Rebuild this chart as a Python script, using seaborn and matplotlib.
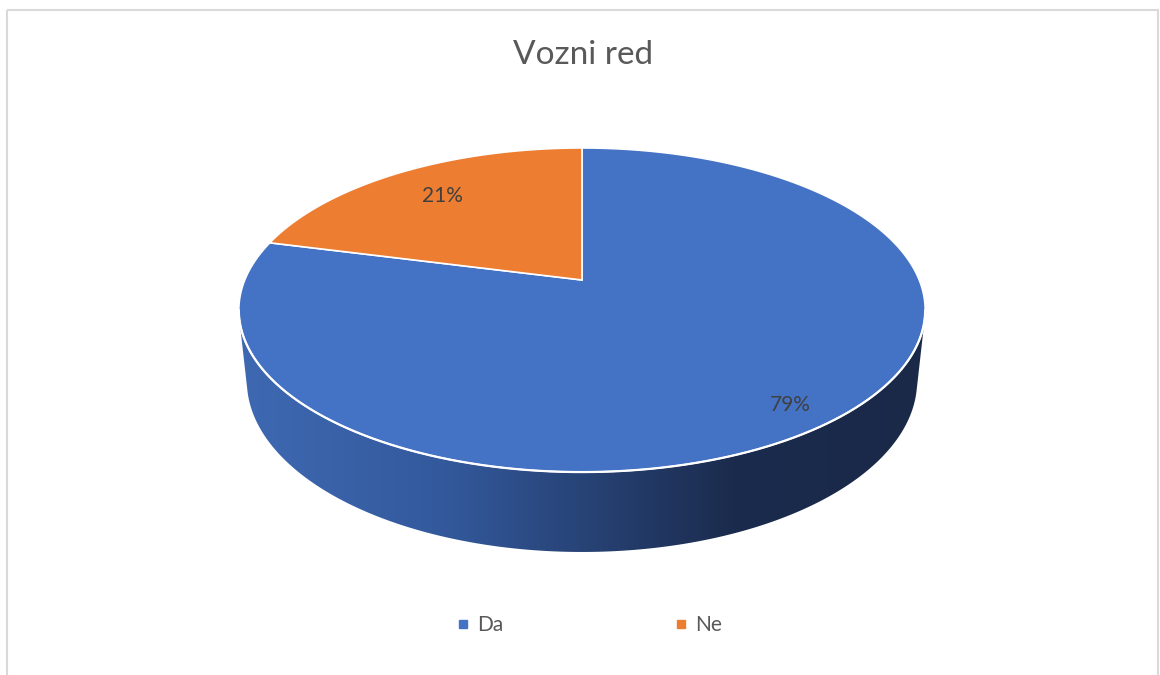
import numpy as np
import matplotlib
matplotlib.use("Agg")
import matplotlib.pyplot as plt
import seaborn as sns
from matplotlib.patches import Polygon, Rectangle
from matplotlib.colors import LinearSegmentedColormap
from matplotlib.lines import Line2D

#Chart data
title = "Vozni red"
categories = ["Da", "Ne"]
values = [79, 21]
colors = ["#4472C4", "#ED7D31"]
label_radius = [0.88, 0.75]

sns.set_theme(style="white")
plt.rcParams["font.family"] = ["Lato", "DejaVu Sans"]

#Perspective settings for the 3d pie (pixel space)
cx, cy = 582, 280
s_el = 0.464
c_el = np.sqrt(1 - s_el ** 2)
dist, focal, height = 4.78, 1612, 0.239


def proj(theta, r=1.0, yw=0.0):
    x3 = r * np.cos(theta)
    z3 = r * np.sin(theta)
    yc = z3 * s_el + yw * c_el
    depth = dist + z3 * c_el - yw * s_el
    return cx + focal * x3 / depth, cy - focal * yc / depth


def hull(pts):
    pts = sorted(set(map(tuple, pts)))
    def cross(o, a, b):
        return (a[0] - o[0]) * (b[1] - o[1]) - (a[1] - o[1]) * (b[0] - o[0])
    lower, upper = [], []
    for p in pts:
        while len(lower) >= 2 and cross(lower[-2], lower[-1], p) <= 0:
            lower.pop()
        lower.append(p)
    for p in reversed(pts):
        while len(upper) >= 2 and cross(upper[-2], upper[-1], p) <= 0:
            upper.pop()
        upper.append(p)
    return np.array(lower[:-1] + upper[:-1])


fig = plt.figure(figsize=(11.6, 6.75), dpi=100)
ax = fig.add_axes([0, 0, 1, 1])
ax.set_xlim(0, 1160)
ax.set_ylim(675, 0)
ax.axis("off")

#Chart border
ax.add_patch(Rectangle((7, 10), 1151, 680, fill=False, edgecolor="#D9D9D9", lw=1.5))

#Side of the pie with gradient
th = np.linspace(0, 2 * np.pi, 721)
tx, ty = proj(th)
bx, by = proj(th, yw=-height)
hp = hull(np.column_stack([np.r_[tx, bx], np.r_[ty, by]]))
side = Polygon(hp, closed=True, facecolor="none", edgecolor="none")
ax.add_patch(side)
cmap = LinearSegmentedColormap.from_list(
    "side", [(0, "#3E69B2"), (0.3, "#33599C"), (0.72, "#1B2B4D"), (1, "#1A2948")])
grad = np.linspace(0, 1, 256).reshape(1, -1)
img = ax.imshow(grad, cmap=cmap, aspect="auto",
                extent=[hp[:, 0].min(), hp[:, 0].max(), hp[:, 1].max(), hp[:, 1].min()],
                interpolation="bilinear", zorder=1)
img.set_clip_path(side)

#Top slices, starting at 12 o'clock going clockwise
fracs = np.array(values) / np.sum(values)
start = np.pi / 2
for i, f in enumerate(fracs):
    end = start - f * 2 * np.pi
    t = np.linspace(start, end, 200)
    px, py = proj(t)
    verts = np.column_stack([np.r_[cx, px], np.r_[cy, py]])
    ax.add_patch(Polygon(verts, closed=True, facecolor=colors[i], edgecolor="white",
                         lw=1.2, zorder=2))
    mid = (start + end) / 2
    lx, ly = proj(mid, r=label_radius[i])
    ax.text(lx, ly, f"{values[i]}%", ha="center", va="center", fontsize=15,
            color="#404040", zorder=3)
    start = end

#White rim on the front edge
a = np.arcsin(c_el / dist)
t = np.linspace(np.pi + a, 2 * np.pi - a, 300)
rx, ry = proj(t)
ax.plot(rx, ry, color="white", lw=1.6, zorder=2.5)

ax.text(583, 55, title, ha="center", va="center", fontsize=24, color="#595959")

handles = [Line2D([], [], marker="s", ls="", color=c, markersize=6) for c in colors]
ax.legend(handles, categories, loc="center", bbox_to_anchor=(0.508, 0.074), ncol=2,
          frameon=False, fontsize=15, labelcolor="#595959", handlelength=0.6,
          handletextpad=0.4, columnspacing=8.2)

fig.savefig("out.png", dpi=100)
